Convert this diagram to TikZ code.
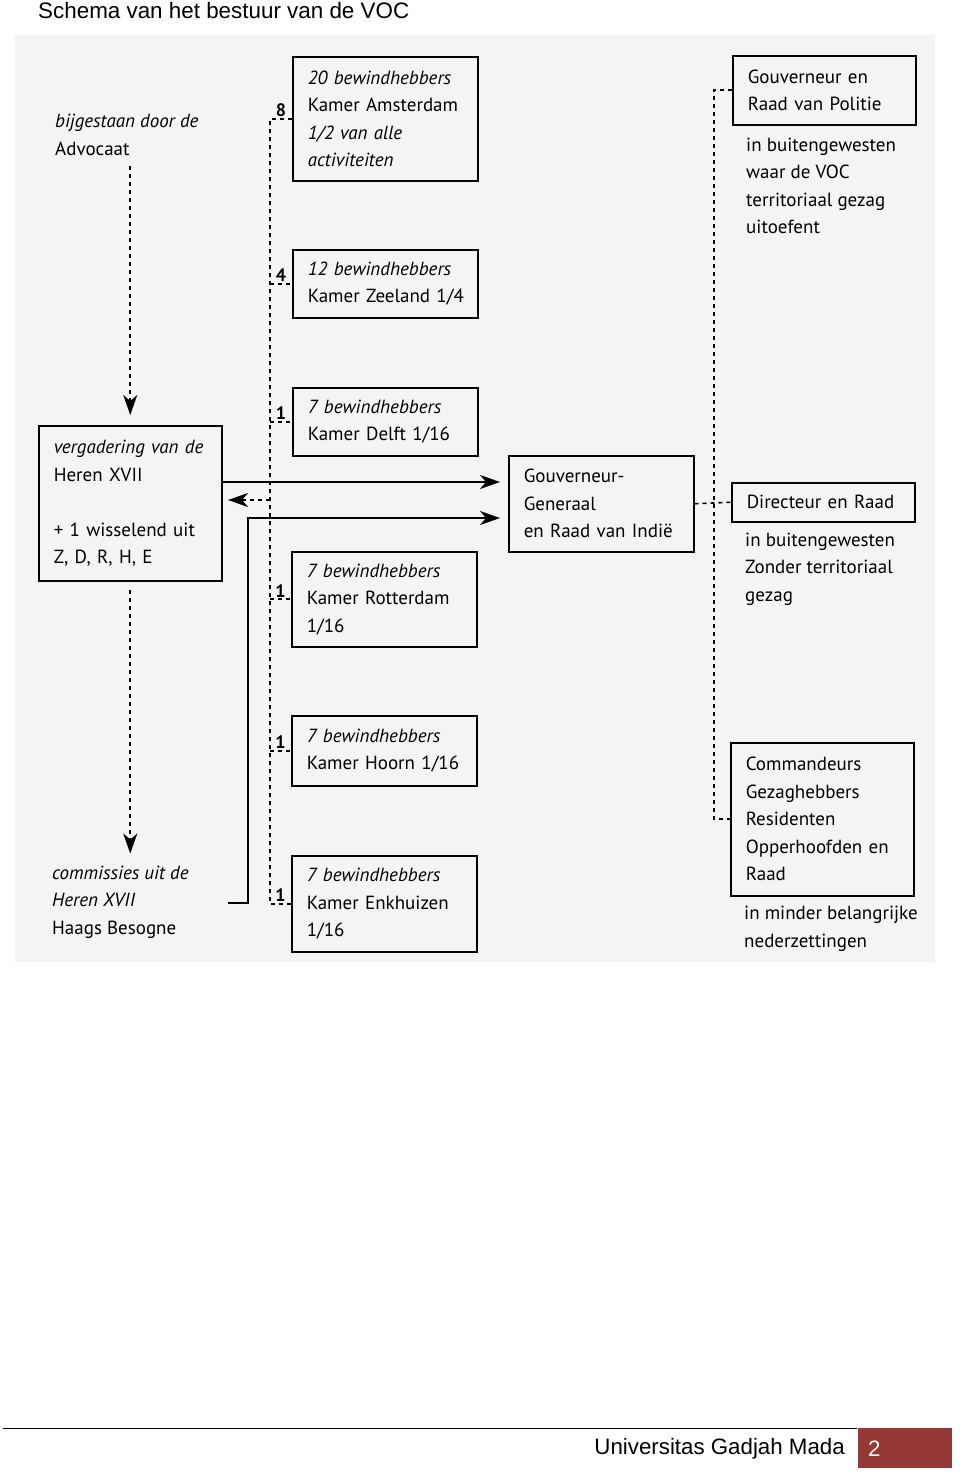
\documentclass[tikz,border=0pt]{standalone}
\usepackage{fontspec}
\setmainfont{PT Sans}
\newfontfamily\arialf{Liberation Sans}
\usetikzlibrary{arrows.meta}
\definecolor{scanbg}{RGB}{244,244,244}
\definecolor{ugmred}{RGB}{150,56,54}
\newcommand{\dfont}{\fontsize{19}{27.5}\selectfont\hyphenpenalty=10000}
\begin{document}
\begin{tikzpicture}[x=1pt,y=-1pt,
  box/.style={draw, line width=1.5pt, anchor=north west, inner xsep=15pt, inner ysep=0pt,
    align=left, font=\dfont, text width=#1},
  box/.default=155pt,
  txt/.style={anchor=west, align=left, font=\dfont, inner sep=0pt},
  dotline/.style={line width=1.6pt, dash pattern=on 4pt off 4pt},
  solidline/.style={line width=1.6pt},
  tip/.style={-{Stealth[length=20pt,width=14pt,inset=6pt]}},
  num/.style={font=\fontsize{18}{18}\selectfont\bfseries, inner sep=2pt, anchor=south}]
\useasboundingbox (0,0) rectangle (960,1473);
\fill[scanbg] (15,35) rectangle (935,962);

% title
\node[anchor=base west, inner sep=0pt, font=\arialf\fontsize{22.4}{22.4}\selectfont] (title) at (38,18) {Schema van het bestuur van de VOC};

% left column
\node[txt] (adv) at (55,135) {\textit{bijgestaan door de}\\Advocaat};
\node[box=153pt, minimum width=183pt, minimum height=155pt] (heren) at (38,425)
  {\textit{vergadering van de}\\Heren XVII\\[27.5pt]+ 1 wisselend uit\\Z, D, R, H, E};
\node[txt] (comm) at (52,902) {\textit{commissies uit de}\\\textit{Heren XVII}\\Haags Besogne};

% chambers
\node[box, minimum width=185pt, minimum height=124pt] (ams) at (292,56)
  {\textit{20 bewindhebbers}\\\mbox{Kamer Amsterdam}\\\textit{1/2 van alle}\\\textit{activiteiten}};
\node[box, minimum width=185pt, minimum height=68pt] (zee) at (292,249)
  {\textit{12 bewindhebbers}\\\mbox{Kamer Zeeland 1/4}};
\node[box, minimum width=184pt, minimum height=68pt] (delft) at (292,387)
  {\textit{7 bewindhebbers}\\\mbox{Kamer Delft 1/16}};
\node[box, minimum width=185pt, minimum height=95pt] (rot) at (291,551)
  {\textit{7 bewindhebbers}\\Kamer Rotterdam\\1/16};
\node[box, minimum width=185pt, minimum height=70pt] (hoorn) at (291,715)
  {\textit{7 bewindhebbers}\\\mbox{Kamer Hoorn 1/16}};
\node[box, minimum width=184pt, minimum height=96pt] (enk) at (291,855)
  {\textit{7 bewindhebbers}\\\mbox{Kamer Enkhuizen}\\1/16};

% governor general
\node[box, minimum width=185pt, minimum height=96pt] (gg) at (508,455)
  {Gouverneur-\\Generaal\\\mbox{en Raad van Indië}};

% right column
\node[box=153pt, minimum width=182pt, minimum height=69pt] (pol) at (732,55)
  {Gouverneur en\\Raad van Politie};
\node[txt] (poltxt) at (746,186) {in buitengewesten\\waar de VOC\\territoriaal gezag\\uitoefent};
\node[box=153pt, minimum width=182pt, minimum height=39pt] (dir) at (731,482)
  {Directeur en Raad};
\node[txt] (dirtxt) at (745,569) {in buitengewesten\\Zonder territoriaal\\gezag};
\node[box=153pt, minimum width=182pt, minimum height=153pt] (cmd) at (730,742)
  {Commandeurs\\Gezaghebbers\\Residenten\\\mbox{Opperhoofden en}\\Raad};
\node[txt] (cmdtxt) at (744,929) {in minder belangrijke\\nederzettingen};

% helper coordinates
\coordinate (vx) at (270,0);
\coordinate (rx) at (714,0);
\coordinate (ret) at (228,500);
\coordinate (cx) at (248,0);
\coordinate (commend) at (228,903);

% left dotted bus
\draw[dotline] (ams.west) -- (ams.west -| vx) -- (enk.west -| vx) -- (enk.west);
\foreach \b in {zee,delft,rot,hoorn} \draw[dotline] (\b.west -| vx) -- (\b.west);
\path (ams.west -| vx) -- node[num, pos=0.5] (n8) {8} (ams.west);
\path (zee.west -| vx) -- node[num, pos=0.5] (n4) {4} (zee.west);
\path (delft.west -| vx) -- node[num, pos=0.5] (n1a) {1} (delft.west);
\path (rot.west -| vx) -- node[num, pos=0.5] (n1b) {1} (rot.west);
\path (hoorn.west -| vx) -- node[num, pos=0.5] (n1c) {1} (hoorn.west);
\path (enk.west -| vx) -- node[num, pos=0.5] (n1d) {1} (enk.west);

% vertical dotted arrows
\draw[dotline, tip] ([yshift=-10pt]adv.south -| heren.north) -- ([yshift=10pt]heren.north);
\draw[dotline, tip] ([yshift=-8pt]heren.south) -- ([yshift=12pt]comm.north -| heren.south);

% arrows to governor general
\draw[solidline, tip, shorten >=8pt] (heren.east |- 0,482) -- (gg.west |- 0,482);
\draw[dotline, tip] (vx |- ret) -- (ret);
\draw[solidline, tip, shorten >=8pt] (commend) -- (commend -| cx) -- (cx |- 0,518) -- (gg.west |- 0,518);

% right dotted bus
\draw[dotline] (pol.west) -- (pol.west -| rx) -- (cmd.west -| rx) -- (cmd.west);
\draw[dotline] (gg.east) -- (dir.west);

% footer
\draw[line width=0.8pt] (3,1428) coordinate (fl) -- (857,1428) coordinate (fr);
\node[fill=ugmred, anchor=north west, minimum width=94pt, minimum height=40pt, inner sep=0pt] (pg) at (858,1428) {};
\node[anchor=west, inner sep=0pt, text=white, font=\arialf\fontsize{22.3}{22.3}\selectfont] (pgnum) at (868,1449) {2};
\node[anchor=east, inner sep=0pt, font=\arialf\fontsize{22.3}{22.3}\selectfont] (ugm) at (845,1449) {Universitas Gadjah Mada};
\end{tikzpicture}
\end{document}
